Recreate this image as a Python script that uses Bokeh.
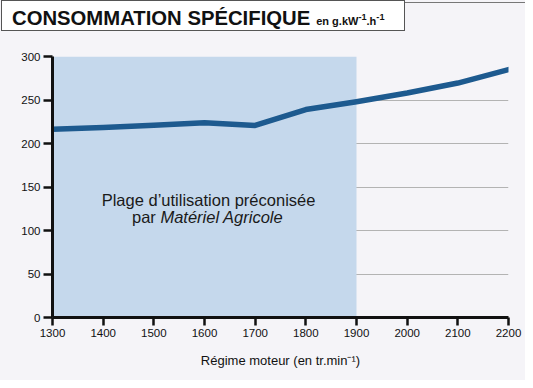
from bokeh.plotting import figure
from bokeh.models import FixedTicker, Label, BoxAnnotation, Div
from bokeh.layouts import column
from bokeh.embed import file_html
from bokeh.resources import INLINE

rpm = [1300, 1400, 1500, 1600, 1700, 1800, 1900, 2000, 2100, 2200]
conso = [216.5, 218.3, 221, 223.8, 220.7, 239, 248, 258, 269.5, 285]
range_start = 1300
range_end = 1900
y_ticks = [0, 50, 100, 150, 200, 250, 300]
title_main = "CONSOMMATION SPÉCIFIQUE"
title_unit = "en g.kW<sup>-1</sup>.h<sup>-1</sup>"

TXT = "'Liberation Sans', Arial, sans-serif"
BG = "#f5f4f8"

p = figure(width=525, height=332, output_backend="svg", toolbar_location=None,
           x_range=(1300, 2200), y_range=(0, 300),
           min_border_left=52, min_border_right=17, min_border_top=8, min_border_bottom=63)
p.background_fill_color = BG
p.border_fill_color = BG
p.outline_line_color = None

p.add_layout(BoxAnnotation(left=range_start, right=range_end, fill_color="#c5d8ec",
                           fill_alpha=1, line_color=None, level="underlay"))

p.xgrid.grid_line_color = None
p.ygrid.grid_line_color = "#b3b3b3"
p.ygrid.grid_line_width = 1.2
p.ygrid.level = "image"

p.line(rpm, conso, line_color="#1d5a8f", line_width=5.5, line_cap="round", line_join="round")

for ax in (p.xaxis[0], p.yaxis[0]):
    ax.axis_line_width = 3
    ax.axis_line_color = "#111111"
    ax.major_tick_line_width = 2.5
    ax.major_tick_line_color = "#111111"
    ax.major_tick_in = 0
    ax.minor_tick_line_color = None
    ax.major_label_text_font = TXT
    ax.major_label_text_font_size = "11.5px"
    ax.major_label_text_color = "#111111"

p.xaxis.ticker = FixedTicker(ticks=rpm)
p.yaxis.ticker = FixedTicker(ticks=y_ticks)
p.xaxis.major_tick_out = 8
p.yaxis.major_tick_out = 9
p.xaxis.major_label_standoff = 3
p.yaxis.major_label_standoff = 3
p.xaxis.axis_label = "Régime moteur (en tr.min⁻¹)"
p.xaxis.axis_label_text_font = TXT
p.xaxis.axis_label_text_font_style = "normal"
p.xaxis.axis_label_text_font_size = "13px"
p.xaxis.axis_label_standoff = 13
p.xaxis.axis_label_text_color = "#111111"

p.add_layout(Label(x=1608, y=135, text="Plage d’utilisation préconisée", text_font=TXT,
                   text_font_size="16.5px", text_align="center", text_baseline="middle",
                   text_color="#1a1a1a"))
p.add_layout(Label(x=1513, y=116, text="par ", text_font=TXT,
                   text_font_size="16.5px", text_align="right", text_baseline="middle",
                   text_color="#1a1a1a"))
p.add_layout(Label(x=1513, y=116, text="Matériel Agricole", text_font=TXT,
                   text_font_size="16.5px", text_font_style="italic", text_align="left",
                   text_baseline="middle", text_color="#1a1a1a"))

title_html = (
    '<div style="position:relative;width:525px;height:48px;">'
    '<div style="position:absolute;left:404px;top:2px;width:121px;height:0;'
    'border-top:1px solid #777;"></div>'
    '<div style="position:absolute;left:1px;top:0;width:404px;height:31px;box-sizing:border-box;'
    'background:#ffffff;border:1px solid #555;padding-left:10px;padding-top:3px;white-space:nowrap;'
    f'font-family:{TXT};color:#111;line-height:26px;">'
    f'<span style="font-size:20.3px;font-weight:bold;">{title_main}</span>'
    f'<span style="font-size:11px;font-weight:bold;margin-left:6px;">{title_unit}</span>'
    '</div></div>'
)
div = Div(text=title_html, width=525, height=48,
          styles={"background-color": BG, "margin": "0", "padding": "0"})

layout = column(div, p, spacing=0)
layout.styles = {"background-color": BG}

open("out.html", "w").write(file_html(layout, INLINE))
